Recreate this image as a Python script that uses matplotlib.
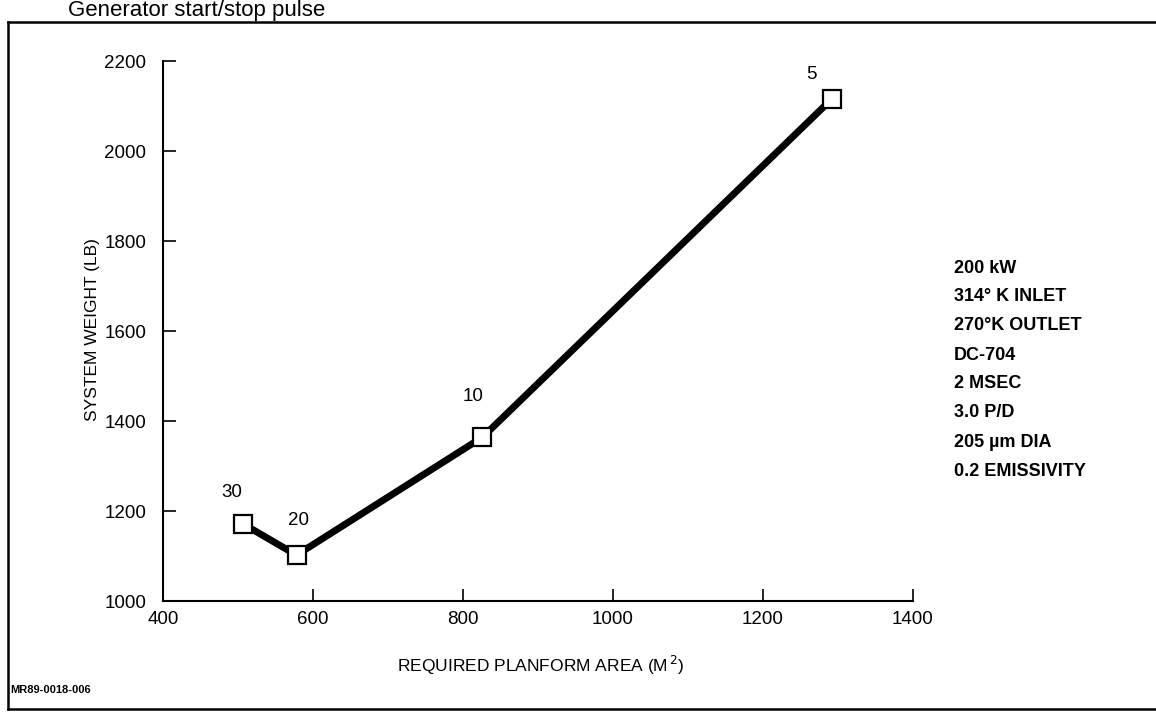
import matplotlib.pyplot as plt
from matplotlib.lines import Line2D

# values
planform_area = [507, 578, 826, 1292]
system_weight = [1171, 1102, 1364, 2116]
point_labels = ['30', '20', '10', '5']
x_ticks = [400, 600, 800, 1000, 1200, 1400]
y_ticks = [1000, 1200, 1400, 1600, 1800, 2000, 2200]
notes = ['200 kW', '314\u00b0 K INLET', '270\u00b0K OUTLET', 'DC-704',
         '2 MSEC', '3.0 P/D', '205 \u00b5m DIA', '0.2 EMISSIVITY']

plt.rcParams['font.family'] = ['Liberation Sans', 'DejaVu Sans']

W, H = 1156, 724
fig = plt.figure(figsize=(W / 100, H / 100), dpi=100)
ax = fig.add_axes([163 / W, (H - 601) / H, (913 - 163) / W, (601 - 61) / H])

ax.plot(planform_area, system_weight, color='black', lw=5, solid_joinstyle='round',
        marker='s', markersize=13, markerfacecolor='white',
        markeredgecolor='black', markeredgewidth=1.6, zorder=3)

# labels above each point (offsets in points)
offsets = [(-8.5, 23), (1.5, 25), (-6.5, 29.5), (-15, 17.5)]
for x, y, lab, (dx, dy) in zip(planform_area, system_weight, point_labels, offsets):
    ax.annotate(lab, (x, y), xytext=(dx, dy), textcoords='offset points',
                ha='center', va='center', fontsize=13.5)

ax.set_xlim(400, 1400)
ax.set_ylim(1000, 2200)
ax.set_xticks(x_ticks)
ax.set_yticks(y_ticks)
ax.tick_params(direction='in', length=9, width=1.2, labelsize=13.5)
ax.tick_params(axis='x', pad=7)
ax.tick_params(axis='y', pad=12)
for s in ['top', 'right']:
    ax.spines[s].set_visible(False)
for s in ['left', 'bottom']:
    ax.spines[s].set_linewidth(1.5)
ax.patch.set_alpha(0)

fig.text(93 / W, 1 - 330 / H, 'SYSTEM WEIGHT (LB)', rotation=90,
         ha='center', va='center', fontsize=12.5)
fig.text(541 / W, 1 - 665 / H, 'REQUIRED PLANFORM AREA (M$^{\\,2}$)',
         ha='center', va='center', fontsize=12.5)

for i, line in enumerate(notes):
    fig.text(954 / W, 1 - (268 + i * 29) / H, line, ha='left', va='center',
             fontsize=13, fontweight='bold')

fig.text(10 / W, 1 - 690 / H, 'MR89-0018-006', ha='left', va='center',
         fontsize=8, fontweight='bold')

# caption above the frame (cut off in the scan)
fig.text(68 / W, 1 - 16 / H, 'Generator start/stop pulse', ha='left',
         va='baseline', fontsize=16)

# frame: top, left and bottom edges (right edge lies outside the scan)
frame = [((8, 1156), (22, 22)), ((8, 8), (22, 709)), ((8, 1156), (709, 709))]
for xs, ys in frame:
    fig.lines.append(Line2D([v / W for v in xs], [1 - v / H for v in ys],
                            transform=fig.transFigure, color='black', lw=1.8))

fig.savefig('out.png', dpi=100)
